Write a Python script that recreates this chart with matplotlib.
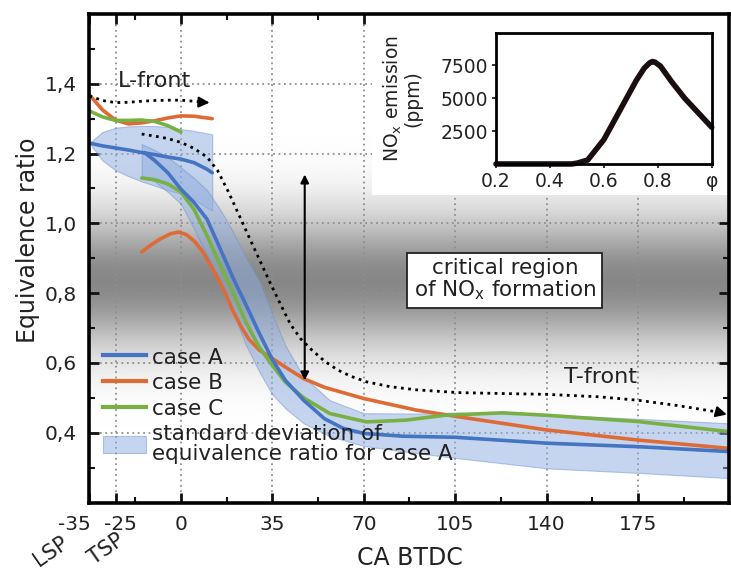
import numpy as np
import matplotlib
matplotlib.use('Agg')
import matplotlib.pyplot as plt
from matplotlib.patches import Patch, Rectangle
from matplotlib.lines import Line2D
import matplotlib.transforms as mtrans

plt.rcParams['font.family'] = ['DejaVu Sans']
plt.rcParams['text.color'] = '#222222'
plt.rcParams['axes.labelcolor'] = '#222222'
plt.rcParams['xtick.color'] = '#111111'
plt.rcParams['ytick.color'] = '#111111'
plt.rcParams['xtick.labelcolor'] = '#222222'
plt.rcParams['ytick.labelcolor'] = '#222222'

# ---------------- data ----------------
# case A, L-front branch
a_l_x = [-35, -30, -25, -20, -15, -10, -5, 0, 5, 10, 12]
a_l_y = [1.230, 1.222, 1.216, 1.210, 1.203, 1.197, 1.190, 1.184, 1.174, 1.155, 1.145]
a_l_up = [1.230, 1.262, 1.274, 1.278, 1.279, 1.279, 1.276, 1.270, 1.265, 1.258, 1.255]
a_l_lo = [1.230, 1.180, 1.152, 1.135, 1.120, 1.108, 1.095, 1.085, 1.068, 1.045, 1.036]

# case A, T-front branch
a_t_x = [-14, -10, -5, 0, 5, 10, 15, 20, 25, 30, 35, 40, 47, 55, 62, 70, 85, 105, 140, 175, 210]
a_t_y = [1.203, 1.180, 1.145, 1.098, 1.060, 1.012, 0.928, 0.843, 0.765, 0.685, 0.610, 0.550,
         0.493, 0.440, 0.413, 0.398, 0.390, 0.387, 0.370, 0.360, 0.346]
a_tb_x = [-15, -10, -5, 0, 5, 10, 15, 20, 25, 30, 35, 40, 47, 57, 70, 90, 106, 140, 175, 210]
a_tb_up = [1.227, 1.210, 1.190, 1.160, 1.130, 1.095, 1.040, 0.975, 0.900, 0.836, 0.740, 0.650,
           0.560, 0.493, 0.456, 0.455, 0.458, 0.452, 0.440, 0.427]
a_tb_lo = [1.136, 1.120, 1.090, 1.056, 0.985, 0.910, 0.835, 0.745, 0.650, 0.575, 0.510, 0.470,
           0.427, 0.390, 0.362, 0.342, 0.327, 0.298, 0.285, 0.270]

# case B
b_l_x = [-35, -30, -25, -20, -15, -10, -5, 0, 5, 12]
b_l_y = [1.368, 1.325, 1.296, 1.285, 1.288, 1.294, 1.302, 1.308, 1.307, 1.300]
b_t_x = [-15, -12, -8, -4, -1, 2, 5, 8, 11, 14, 17, 20, 23, 26, 30, 35, 40, 47, 55, 70, 90,
         106, 140, 175, 210]
b_t_y = [0.918, 0.935, 0.955, 0.970, 0.975, 0.968, 0.950, 0.922, 0.885, 0.845, 0.800, 0.748,
         0.705, 0.668, 0.637, 0.613, 0.588, 0.555, 0.530, 0.498, 0.465, 0.446, 0.408, 0.379, 0.355]

# case C
c_l_x = [-35, -30, -25, -20, -15, -10, -5, 0]
c_l_y = [1.322, 1.305, 1.295, 1.295, 1.296, 1.292, 1.280, 1.262]
c_t_x = [-15, -10, -5, 0, 5, 10, 15, 20, 25, 30, 35, 40, 47, 57, 71, 86, 101, 123, 140, 175, 210]
c_t_y = [1.130, 1.125, 1.113, 1.090, 1.040, 0.965, 0.880, 0.800, 0.715, 0.645, 0.593, 0.545,
         0.500, 0.455, 0.431, 0.436, 0.450, 0.457, 0.450, 0.432, 0.403]

# flame front paths
lf_x = [-35, -30, -25, -20, -15, -10, -5, 0, 5, 8]
lf_y = [1.365, 1.352, 1.346, 1.347, 1.350, 1.352, 1.353, 1.353, 1.350, 1.347]
tf_x = [-15, -10, -5, 0, 5, 10, 14, 18, 22, 26, 30, 34, 38, 42, 46, 50, 55, 60, 65, 71, 80, 90,
        106, 125, 140, 160, 175, 190, 200, 205]
tf_y = [1.256, 1.250, 1.243, 1.232, 1.215, 1.190, 1.152, 1.093, 1.028, 0.962, 0.897, 0.832,
        0.770, 0.710, 0.668, 0.638, 0.605, 0.580, 0.562, 0.546, 0.532, 0.523, 0.515, 0.512,
        0.510, 0.503, 0.493, 0.478, 0.466, 0.460]

# inset: NOx emission vs equivalence ratio
nox_phi = [0.2, 0.3, 0.4, 0.48, 0.5, 0.54, 0.6, 0.66, 0.72, 0.75, 0.77, 0.78, 0.79, 0.81, 0.85,
           0.9, 0.95, 1.0]
nox_ppm = [0, 0, 0, 0, 60, 300, 1850, 4100, 6350, 7300, 7700, 7800, 7750, 7450, 6300, 5000,
           3900, 2800]

xtick_vals = [-35, -25, 0, 35, 70, 105, 140, 175]
xtick_labels = ['-35', '-25', '0', '35', '70', '105', '140', '175']
ytick_vals = [0.4, 0.6, 0.8, 1.0, 1.2, 1.4]
ytick_labels = ['0,4', '0,6', '0,8', '1,0', '1,2', '1,4']
inset_xticks = [0.2, 0.4, 0.6, 0.8, 1.0]
inset_xlabels = ['0.2', '0.4', '0.6', '0.8', 'φ']
inset_yticks = [2500, 5000, 7500]
inset_ylabels = ['2500', '5000', '7500']

legend_labels = ['case A', 'case B', 'case C',
                 'standard deviation of\nequivalence ratio for case A']

# ---------------- styling ----------------
c_blue = '#4474c2'
c_orange = '#de6b36'
c_green = '#78b044'
band_fc = '#8fade0'
band_ec = '#6f92cf'

fig = plt.figure(figsize=(7.31, 5.78), dpi=100)
ax = fig.add_axes([0.1224, 0.1306, 0.8755, 0.8452])
xmin, xmax, ymin, ymax = -35, 210, 0.2, 1.6
ax.set_xlim(xmin, xmax)
ax.set_ylim(ymin, ymax)

# gray critical region gradient
phi = np.linspace(ymin, ymax, 500)
gray = 1 - 0.47 * np.exp(-((phi - 0.835) / 0.19) ** 2)
ax.imshow(np.tile(gray[:, None], (1, 2)), extent=[xmin, xmax, ymin, ymax], origin='lower',
          aspect='auto', cmap='gray', vmin=0, vmax=1, zorder=0, interpolation='bilinear')

ax.grid(True, which='major', color='#8f8f8f', linestyle=(0, (1, 2)), linewidth=1.3, zorder=1)

# white panel behind inset
ax.add_patch(Rectangle((0.441, 0.6295), 0.56, 0.371, transform=ax.transAxes,
                       facecolor='white', edgecolor='none', zorder=1.6))

# std bands
ax.fill_between(a_l_x, a_l_lo, a_l_up, facecolor=band_fc, alpha=0.5, edgecolor=band_ec,
                linewidth=0.8, zorder=2)
ax.fill_between(a_tb_x, a_tb_lo, a_tb_up, facecolor=band_fc, alpha=0.5, edgecolor=band_ec,
                linewidth=0.8, zorder=2)

lw = 2.6
ax.plot(b_l_x, b_l_y, color=c_orange, lw=lw, zorder=3, solid_capstyle='round')
ax.plot(b_t_x, b_t_y, color=c_orange, lw=lw, zorder=3, solid_capstyle='round')
ax.plot(c_l_x, c_l_y, color=c_green, lw=lw, zorder=3.1, solid_capstyle='round')
ax.plot(c_t_x, c_t_y, color=c_green, lw=lw, zorder=3.1, solid_capstyle='round')
ax.plot(a_l_x, a_l_y, color=c_blue, lw=lw, zorder=3.2, solid_capstyle='round')
ax.plot(a_t_x, a_t_y, color=c_blue, lw=lw, zorder=3.2, solid_capstyle='round')

# flame front dotted arrows
dots = (0, (1, 1.6))
ax.plot(lf_x, lf_y, color='black', lw=2, linestyle=dots, zorder=4)
ax.annotate('', xy=(11, 1.346), xytext=(lf_x[-1], lf_y[-1]),
            arrowprops=dict(arrowstyle='-|>', color='black', lw=1.5, mutation_scale=16,
                            shrinkA=0, shrinkB=0), zorder=4)
ax.plot(tf_x, tf_y, color='black', lw=2, linestyle=dots, zorder=4)
ax.annotate('', xy=(209, 0.452), xytext=(tf_x[-1], tf_y[-1]),
            arrowprops=dict(arrowstyle='-|>', color='black', lw=1.5, mutation_scale=16,
                            shrinkA=0, shrinkB=0), zorder=4, annotation_clip=False)

# vertical double arrow
ax.annotate('', xy=(47.4, 1.14), xytext=(47.4, 0.55),
            arrowprops=dict(arrowstyle='<|-|>', color='black', lw=1.5, mutation_scale=12,
                            shrinkA=0, shrinkB=0), zorder=4)

ax.text(-10, 1.408, 'L-front', fontsize=16, ha='center', va='center', zorder=5)
ax.text(160.5, 0.559, 'T-front', fontsize=16, ha='center', va='center', zorder=5)
ax.text(124, 0.838, 'critical region\nof NO$_\\mathregular{x}$ formation', fontsize=15.5,
        ha='center', va='center', linespacing=1.0, zorder=5,
        bbox=dict(boxstyle='square,pad=0.3', facecolor='white', edgecolor='#222222', lw=1.3))

# axes formatting
ax.set_xticks(xtick_vals)
ax.set_xticklabels(xtick_labels)
ax.set_yticks(ytick_vals)
ax.set_yticklabels(ytick_labels)
ax.xaxis.set_minor_locator(matplotlib.ticker.MultipleLocator(17.5))
ax.yaxis.set_minor_locator(matplotlib.ticker.MultipleLocator(0.1))
ax.tick_params(which='major', direction='in', length=7, width=2, top=True, right=True,
               labelsize=14.5, pad=9)
ax.tick_params(which='minor', direction='in', length=4, width=1.5, top=True, right=True)
for s in ax.spines.values():
    s.set_linewidth(2.6)
    s.set_zorder(6)

offs = {-35: -15, -25: 5}
for tick, val in zip(ax.xaxis.get_major_ticks(), xtick_vals):
    if val in offs:
        tick.label1.set_transform(tick.label1.get_transform() +
                                  mtrans.ScaledTranslation(offs[val] / fig.dpi, 0, fig.dpi_scale_trans))

ax.set_ylabel('Equivalence ratio', fontsize=17)
ax.yaxis.set_label_coords(-0.078, 0.537)
ax.set_xlabel('CA BTDC', fontsize=17)
ax.xaxis.set_label_coords(0.50, -0.088)

ax.text(-41.7, -0.062, 'LSP', transform=mtrans.blended_transform_factory(ax.transData, ax.transAxes),
        rotation=35, ha='right', va='top', fontsize=15)
ax.text(-20.3, -0.056, 'TSP', transform=mtrans.blended_transform_factory(ax.transData, ax.transAxes),
        rotation=35, ha='right', va='top', fontsize=15)

# legend
handles = [Line2D([], [], color=c_blue, lw=3),
           Line2D([], [], color=c_orange, lw=3),
           Line2D([], [], color=c_green, lw=3),
           Patch(facecolor=band_fc, alpha=0.5, edgecolor=band_ec, linewidth=0.8)]
leg = ax.legend(handles, legend_labels, loc='upper left', bbox_to_anchor=(0.021, 0.318),
                frameon=False, fontsize=15.5, handlelength=2.0, handletextpad=0.3,
                labelspacing=0.25, borderaxespad=0, borderpad=0, handleheight=0.9)
for t in leg.get_texts():
    t.set_linespacing(0.95)
leg.set_zorder(7)

# inset
ax2 = fig.add_axes([0.6785, 0.7163, 0.2951, 0.2272])
ax2.plot(nox_phi, nox_ppm, color='#1a0e0e', lw=4, solid_capstyle='round',
         solid_joinstyle='round', clip_on=False)
ax2.set_xlim(0.2, 1.0)
ax2.set_ylim(0, 10000)
ax2.set_xticks(inset_xticks)
ax2.set_xticklabels(inset_xlabels)
ax2.set_yticks(inset_yticks)
ax2.set_yticklabels(inset_ylabels)
ax2.tick_params(direction='out', length=3, width=1.2, labelsize=13.5, pad=3)
for s in ax2.spines.values():
    s.set_linewidth(2)
ax2.set_ylabel('NO$_\\mathregular{x}$ emission\n(ppm)', fontsize=13.5, linespacing=0.95)
ax2.yaxis.set_label_coords(-0.34, 0.495)

fig.savefig('out.png', dpi=100)
